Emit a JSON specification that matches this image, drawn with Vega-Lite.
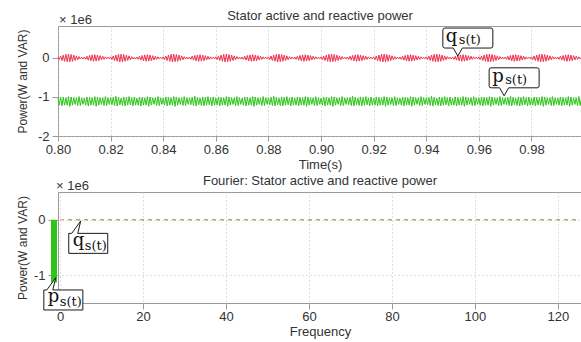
{
  "$schema": "https://vega.github.io/schema/vega-lite/v6.json",
  "padding": {"left": 15, "top": 9, "right": 0, "bottom": 0},
  "columns": 1,
  "spacing": 2,
  "config": {
    "font": "Liberation Sans",
    "view": {"stroke": "#9a9a9a", "strokeWidth": 1},
    "axis": {
      "domain": false,
      "tickColor": "#9a9a9a",
      "labelFont": "Liberation Sans",
      "labelFontSize": 13,
      "labelColor": "#333333",
      "titleFont": "Liberation Sans",
      "titleFontSize": 13,
      "titleFontWeight": "normal",
      "titleColor": "#333333",
      "gridColor": "#bdbdbd",
      "gridDash": [1, 3],
      "gridWidth": 1
    },
    "title": {"font": "Liberation Sans", "fontSize": 13, "fontWeight": "normal", "color": "#333333", "frame": "group"}
  },
  "datasets": {
    "wave": [
      {"t":0.8,"q":0.03,"p":-1.03},{"t":0.8005,"q":-0.04,"p":-1.21},{"t":0.801,"q":0.05,"p":-1.0},{"t":0.8015,"q":-0.065,"p":-1.23},{"t":0.802,"q":0.075,"p":-1.01},{"t":0.8025,"q":-0.085,"p":-1.21},{"t":0.803,"q":0.095,"p":-1.02},{"t":0.8035,"q":-0.1,"p":-1.21},{"t":0.804,"q":0.1,"p":-0.99},{"t":0.8045,"q":-0.095,"p":-1.24},{"t":0.805,"q":0.09,"p":-1.0},{"t":0.8055,"q":-0.085,"p":-1.21},{"t":0.806,"q":0.075,"p":-1.02},{"t":0.8065,"q":-0.065,"p":-1.19},{"t":0.807,"q":0.055,"p":-1.02},{"t":0.8075,"q":-0.045,"p":-1.22},{"t":0.808,"q":0.035,"p":-0.99},{"t":0.8085,"q":-0.025,"p":-1.22},{"t":0.809,"q":0.02,"p":-1.02},{"t":0.8095,"q":-0.025,"p":-1.19},
      {"t":0.81,"q":0.025,"p":-1.03},{"t":0.8105,"q":-0.035,"p":-1.21},{"t":0.811,"q":0.045,"p":-1.0},{"t":0.8115,"q":-0.055,"p":-1.23},{"t":0.812,"q":0.065,"p":-1.01},{"t":0.8125,"q":-0.075,"p":-1.21},{"t":0.813,"q":0.08,"p":-1.02},{"t":0.8135,"q":-0.085,"p":-1.21},{"t":0.814,"q":0.085,"p":-0.99},{"t":0.8145,"q":-0.08,"p":-1.24},{"t":0.815,"q":0.075,"p":-1.0},{"t":0.8155,"q":-0.07,"p":-1.21},{"t":0.816,"q":0.06,"p":-1.02},{"t":0.8165,"q":-0.05,"p":-1.19},{"t":0.817,"q":0.045,"p":-1.02},{"t":0.8175,"q":-0.035,"p":-1.22},{"t":0.818,"q":0.03,"p":-0.99},{"t":0.8185,"q":-0.02,"p":-1.22},{"t":0.819,"q":0.02,"p":-1.02},{"t":0.8195,"q":-0.02,"p":-1.19},
      {"t":0.82,"q":0.03,"p":-1.02},{"t":0.8205,"q":-0.04,"p":-1.2},{"t":0.821,"q":0.05,"p":-1.01},{"t":0.8215,"q":-0.065,"p":-1.22},{"t":0.822,"q":0.075,"p":-0.98},{"t":0.8225,"q":-0.085,"p":-1.23},{"t":0.823,"q":0.095,"p":-1.01},{"t":0.8235,"q":-0.1,"p":-1.2},{"t":0.824,"q":0.1,"p":-1.03},{"t":0.8245,"q":-0.095,"p":-1.22},{"t":0.825,"q":0.09,"p":-1.0},{"t":0.8255,"q":-0.085,"p":-1.23},{"t":0.826,"q":0.075,"p":-1.01},{"t":0.8265,"q":-0.065,"p":-1.21},{"t":0.827,"q":0.055,"p":-0.99},{"t":0.8275,"q":-0.045,"p":-1.2},{"t":0.828,"q":0.035,"p":-1.02},{"t":0.8285,"q":-0.025,"p":-1.23},{"t":0.829,"q":0.02,"p":-1.0},{"t":0.8295,"q":-0.025,"p":-1.21},
      {"t":0.83,"q":0.025,"p":-1.03},{"t":0.8305,"q":-0.035,"p":-1.21},{"t":0.831,"q":0.045,"p":-1.0},{"t":0.8315,"q":-0.055,"p":-1.23},{"t":0.832,"q":0.065,"p":-1.01},{"t":0.8325,"q":-0.075,"p":-1.21},{"t":0.833,"q":0.08,"p":-1.02},{"t":0.8335,"q":-0.085,"p":-1.21},{"t":0.834,"q":0.085,"p":-0.99},{"t":0.8345,"q":-0.08,"p":-1.24},{"t":0.835,"q":0.075,"p":-1.0},{"t":0.8355,"q":-0.07,"p":-1.21},{"t":0.836,"q":0.06,"p":-1.02},{"t":0.8365,"q":-0.05,"p":-1.19},{"t":0.837,"q":0.045,"p":-1.02},{"t":0.8375,"q":-0.035,"p":-1.22},{"t":0.838,"q":0.03,"p":-0.99},{"t":0.8385,"q":-0.02,"p":-1.22},{"t":0.839,"q":0.02,"p":-1.02},{"t":0.8395,"q":-0.02,"p":-1.19},
      {"t":0.84,"q":0.03,"p":-1.03},{"t":0.8405,"q":-0.04,"p":-1.21},{"t":0.841,"q":0.05,"p":-1.0},{"t":0.8415,"q":-0.065,"p":-1.23},{"t":0.842,"q":0.075,"p":-1.01},{"t":0.8425,"q":-0.085,"p":-1.21},{"t":0.843,"q":0.095,"p":-1.02},{"t":0.8435,"q":-0.1,"p":-1.21},{"t":0.844,"q":0.1,"p":-0.99},{"t":0.8445,"q":-0.095,"p":-1.24},{"t":0.845,"q":0.09,"p":-1.0},{"t":0.8455,"q":-0.085,"p":-1.21},{"t":0.846,"q":0.075,"p":-1.02},{"t":0.8465,"q":-0.065,"p":-1.19},{"t":0.847,"q":0.055,"p":-1.02},{"t":0.8475,"q":-0.045,"p":-1.22},{"t":0.848,"q":0.035,"p":-0.99},{"t":0.8485,"q":-0.025,"p":-1.22},{"t":0.849,"q":0.02,"p":-1.02},{"t":0.8495,"q":-0.025,"p":-1.19},
      {"t":0.85,"q":0.025,"p":-1.02},{"t":0.8505,"q":-0.035,"p":-1.2},{"t":0.851,"q":0.045,"p":-1.01},{"t":0.8515,"q":-0.055,"p":-1.22},{"t":0.852,"q":0.065,"p":-0.98},{"t":0.8525,"q":-0.075,"p":-1.23},{"t":0.853,"q":0.08,"p":-1.01},{"t":0.8535,"q":-0.085,"p":-1.2},{"t":0.854,"q":0.085,"p":-1.03},{"t":0.8545,"q":-0.08,"p":-1.22},{"t":0.855,"q":0.075,"p":-1.0},{"t":0.8555,"q":-0.07,"p":-1.23},{"t":0.856,"q":0.06,"p":-1.01},{"t":0.8565,"q":-0.05,"p":-1.21},{"t":0.857,"q":0.045,"p":-0.99},{"t":0.8575,"q":-0.035,"p":-1.2},{"t":0.858,"q":0.03,"p":-1.02},{"t":0.8585,"q":-0.02,"p":-1.23},{"t":0.859,"q":0.02,"p":-1.0},{"t":0.8595,"q":-0.02,"p":-1.21},
      {"t":0.86,"q":0.03,"p":-1.03},{"t":0.8605,"q":-0.04,"p":-1.21},{"t":0.861,"q":0.05,"p":-1.0},{"t":0.8615,"q":-0.065,"p":-1.23},{"t":0.862,"q":0.075,"p":-1.01},{"t":0.8625,"q":-0.085,"p":-1.21},{"t":0.863,"q":0.095,"p":-1.02},{"t":0.8635,"q":-0.1,"p":-1.21},{"t":0.864,"q":0.1,"p":-0.99},{"t":0.8645,"q":-0.095,"p":-1.24},{"t":0.865,"q":0.09,"p":-1.0},{"t":0.8655,"q":-0.085,"p":-1.21},{"t":0.866,"q":0.075,"p":-1.02},{"t":0.8665,"q":-0.065,"p":-1.19},{"t":0.867,"q":0.055,"p":-1.02},{"t":0.8675,"q":-0.045,"p":-1.22},{"t":0.868,"q":0.035,"p":-0.99},{"t":0.8685,"q":-0.025,"p":-1.22},{"t":0.869,"q":0.02,"p":-1.02},{"t":0.8695,"q":-0.025,"p":-1.19},
      {"t":0.87,"q":0.025,"p":-1.03},{"t":0.8705,"q":-0.035,"p":-1.21},{"t":0.871,"q":0.045,"p":-1.0},{"t":0.8715,"q":-0.055,"p":-1.23},{"t":0.872,"q":0.065,"p":-1.01},{"t":0.8725,"q":-0.075,"p":-1.21},{"t":0.873,"q":0.08,"p":-1.02},{"t":0.8735,"q":-0.085,"p":-1.21},{"t":0.874,"q":0.085,"p":-0.99},{"t":0.8745,"q":-0.08,"p":-1.24},{"t":0.875,"q":0.075,"p":-1.0},{"t":0.8755,"q":-0.07,"p":-1.21},{"t":0.876,"q":0.06,"p":-1.02},{"t":0.8765,"q":-0.05,"p":-1.19},{"t":0.877,"q":0.045,"p":-1.02},{"t":0.8775,"q":-0.035,"p":-1.22},{"t":0.878,"q":0.03,"p":-0.99},{"t":0.8785,"q":-0.02,"p":-1.22},{"t":0.879,"q":0.02,"p":-1.02},{"t":0.8795,"q":-0.02,"p":-1.19},
      {"t":0.88,"q":0.03,"p":-1.02},{"t":0.8805,"q":-0.04,"p":-1.2},{"t":0.881,"q":0.05,"p":-1.01},{"t":0.8815,"q":-0.065,"p":-1.22},{"t":0.882,"q":0.075,"p":-0.98},{"t":0.8825,"q":-0.085,"p":-1.23},{"t":0.883,"q":0.095,"p":-1.01},{"t":0.8835,"q":-0.1,"p":-1.2},{"t":0.884,"q":0.1,"p":-1.03},{"t":0.8845,"q":-0.095,"p":-1.22},{"t":0.885,"q":0.09,"p":-1.0},{"t":0.8855,"q":-0.085,"p":-1.23},{"t":0.886,"q":0.075,"p":-1.01},{"t":0.8865,"q":-0.065,"p":-1.21},{"t":0.887,"q":0.055,"p":-0.99},{"t":0.8875,"q":-0.045,"p":-1.2},{"t":0.888,"q":0.035,"p":-1.02},{"t":0.8885,"q":-0.025,"p":-1.23},{"t":0.889,"q":0.02,"p":-1.0},{"t":0.8895,"q":-0.025,"p":-1.21},
      {"t":0.89,"q":0.025,"p":-1.03},{"t":0.8905,"q":-0.035,"p":-1.21},{"t":0.891,"q":0.045,"p":-1.0},{"t":0.8915,"q":-0.055,"p":-1.23},{"t":0.892,"q":0.065,"p":-1.01},{"t":0.8925,"q":-0.075,"p":-1.21},{"t":0.893,"q":0.08,"p":-1.02},{"t":0.8935,"q":-0.085,"p":-1.21},{"t":0.894,"q":0.085,"p":-0.99},{"t":0.8945,"q":-0.08,"p":-1.24},{"t":0.895,"q":0.075,"p":-1.0},{"t":0.8955,"q":-0.07,"p":-1.21},{"t":0.896,"q":0.06,"p":-1.02},{"t":0.8965,"q":-0.05,"p":-1.19},{"t":0.897,"q":0.045,"p":-1.02},{"t":0.8975,"q":-0.035,"p":-1.22},{"t":0.898,"q":0.03,"p":-0.99},{"t":0.8985,"q":-0.02,"p":-1.22},{"t":0.899,"q":0.02,"p":-1.02},{"t":0.8995,"q":-0.02,"p":-1.19},
      {"t":0.9,"q":0.03,"p":-1.03},{"t":0.9005,"q":-0.04,"p":-1.21},{"t":0.901,"q":0.05,"p":-1.0},{"t":0.9015,"q":-0.065,"p":-1.23},{"t":0.902,"q":0.075,"p":-1.01},{"t":0.9025,"q":-0.085,"p":-1.21},{"t":0.903,"q":0.095,"p":-1.02},{"t":0.9035,"q":-0.1,"p":-1.21},{"t":0.904,"q":0.1,"p":-0.99},{"t":0.9045,"q":-0.095,"p":-1.24},{"t":0.905,"q":0.09,"p":-1.0},{"t":0.9055,"q":-0.085,"p":-1.21},{"t":0.906,"q":0.075,"p":-1.02},{"t":0.9065,"q":-0.065,"p":-1.19},{"t":0.907,"q":0.055,"p":-1.02},{"t":0.9075,"q":-0.045,"p":-1.22},{"t":0.908,"q":0.035,"p":-0.99},{"t":0.9085,"q":-0.025,"p":-1.22},{"t":0.909,"q":0.02,"p":-1.02},{"t":0.9095,"q":-0.025,"p":-1.19},
      {"t":0.91,"q":0.025,"p":-1.02},{"t":0.9105,"q":-0.035,"p":-1.2},{"t":0.911,"q":0.045,"p":-1.01},{"t":0.9115,"q":-0.055,"p":-1.22},{"t":0.912,"q":0.065,"p":-0.98},{"t":0.9125,"q":-0.075,"p":-1.23},{"t":0.913,"q":0.08,"p":-1.01},{"t":0.9135,"q":-0.085,"p":-1.2},{"t":0.914,"q":0.085,"p":-1.03},{"t":0.9145,"q":-0.08,"p":-1.22},{"t":0.915,"q":0.075,"p":-1.0},{"t":0.9155,"q":-0.07,"p":-1.23},{"t":0.916,"q":0.06,"p":-1.01},{"t":0.9165,"q":-0.05,"p":-1.21},{"t":0.917,"q":0.045,"p":-0.99},{"t":0.9175,"q":-0.035,"p":-1.2},{"t":0.918,"q":0.03,"p":-1.02},{"t":0.9185,"q":-0.02,"p":-1.23},{"t":0.919,"q":0.02,"p":-1.0},{"t":0.9195,"q":-0.02,"p":-1.21},
      {"t":0.92,"q":0.03,"p":-1.03},{"t":0.9205,"q":-0.04,"p":-1.21},{"t":0.921,"q":0.05,"p":-1.0},{"t":0.9215,"q":-0.065,"p":-1.23},{"t":0.922,"q":0.075,"p":-1.01},{"t":0.9225,"q":-0.085,"p":-1.21},{"t":0.923,"q":0.095,"p":-1.02},{"t":0.9235,"q":-0.1,"p":-1.21},{"t":0.924,"q":0.1,"p":-0.99},{"t":0.9245,"q":-0.095,"p":-1.24},{"t":0.925,"q":0.09,"p":-1.0},{"t":0.9255,"q":-0.085,"p":-1.21},{"t":0.926,"q":0.075,"p":-1.02},{"t":0.9265,"q":-0.065,"p":-1.19},{"t":0.927,"q":0.055,"p":-1.02},{"t":0.9275,"q":-0.045,"p":-1.22},{"t":0.928,"q":0.035,"p":-0.99},{"t":0.9285,"q":-0.025,"p":-1.22},{"t":0.929,"q":0.02,"p":-1.02},{"t":0.9295,"q":-0.025,"p":-1.19},
      {"t":0.93,"q":0.025,"p":-1.03},{"t":0.9305,"q":-0.035,"p":-1.21},{"t":0.931,"q":0.045,"p":-1.0},{"t":0.9315,"q":-0.055,"p":-1.23},{"t":0.932,"q":0.065,"p":-1.01},{"t":0.9325,"q":-0.075,"p":-1.21},{"t":0.933,"q":0.08,"p":-1.02},{"t":0.9335,"q":-0.085,"p":-1.21},{"t":0.934,"q":0.085,"p":-0.99},{"t":0.9345,"q":-0.08,"p":-1.24},{"t":0.935,"q":0.075,"p":-1.0},{"t":0.9355,"q":-0.07,"p":-1.21},{"t":0.936,"q":0.06,"p":-1.02},{"t":0.9365,"q":-0.05,"p":-1.19},{"t":0.937,"q":0.045,"p":-1.02},{"t":0.9375,"q":-0.035,"p":-1.22},{"t":0.938,"q":0.03,"p":-0.99},{"t":0.9385,"q":-0.02,"p":-1.22},{"t":0.939,"q":0.02,"p":-1.02},{"t":0.9395,"q":-0.02,"p":-1.19},
      {"t":0.94,"q":0.03,"p":-1.02},{"t":0.9405,"q":-0.04,"p":-1.2},{"t":0.941,"q":0.05,"p":-1.01},{"t":0.9415,"q":-0.065,"p":-1.22},{"t":0.942,"q":0.075,"p":-0.98},{"t":0.9425,"q":-0.085,"p":-1.23},{"t":0.943,"q":0.095,"p":-1.01},{"t":0.9435,"q":-0.1,"p":-1.2},{"t":0.944,"q":0.1,"p":-1.03},{"t":0.9445,"q":-0.095,"p":-1.22},{"t":0.945,"q":0.09,"p":-1.0},{"t":0.9455,"q":-0.085,"p":-1.23},{"t":0.946,"q":0.075,"p":-1.01},{"t":0.9465,"q":-0.065,"p":-1.21},{"t":0.947,"q":0.055,"p":-0.99},{"t":0.9475,"q":-0.045,"p":-1.2},{"t":0.948,"q":0.035,"p":-1.02},{"t":0.9485,"q":-0.025,"p":-1.23},{"t":0.949,"q":0.02,"p":-1.0},{"t":0.9495,"q":-0.025,"p":-1.21},
      {"t":0.95,"q":0.025,"p":-1.03},{"t":0.9505,"q":-0.035,"p":-1.21},{"t":0.951,"q":0.045,"p":-1.0},{"t":0.9515,"q":-0.055,"p":-1.23},{"t":0.952,"q":0.065,"p":-1.01},{"t":0.9525,"q":-0.075,"p":-1.21},{"t":0.953,"q":0.08,"p":-1.02},{"t":0.9535,"q":-0.085,"p":-1.21},{"t":0.954,"q":0.085,"p":-0.99},{"t":0.9545,"q":-0.08,"p":-1.24},{"t":0.955,"q":0.075,"p":-1.0},{"t":0.9555,"q":-0.07,"p":-1.21},{"t":0.956,"q":0.06,"p":-1.02},{"t":0.9565,"q":-0.05,"p":-1.19},{"t":0.957,"q":0.045,"p":-1.02},{"t":0.9575,"q":-0.035,"p":-1.22},{"t":0.958,"q":0.03,"p":-0.99},{"t":0.9585,"q":-0.02,"p":-1.22},{"t":0.959,"q":0.02,"p":-1.02},{"t":0.9595,"q":-0.02,"p":-1.19},
      {"t":0.96,"q":0.03,"p":-1.03},{"t":0.9605,"q":-0.04,"p":-1.21},{"t":0.961,"q":0.05,"p":-1.0},{"t":0.9615,"q":-0.065,"p":-1.23},{"t":0.962,"q":0.075,"p":-1.01},{"t":0.9625,"q":-0.085,"p":-1.21},{"t":0.963,"q":0.095,"p":-1.02},{"t":0.9635,"q":-0.1,"p":-1.21},{"t":0.964,"q":0.1,"p":-0.99},{"t":0.9645,"q":-0.095,"p":-1.24},{"t":0.965,"q":0.09,"p":-1.0},{"t":0.9655,"q":-0.085,"p":-1.21},{"t":0.966,"q":0.075,"p":-1.02},{"t":0.9665,"q":-0.065,"p":-1.19},{"t":0.967,"q":0.055,"p":-1.02},{"t":0.9675,"q":-0.045,"p":-1.22},{"t":0.968,"q":0.035,"p":-0.99},{"t":0.9685,"q":-0.025,"p":-1.22},{"t":0.969,"q":0.02,"p":-1.02},{"t":0.9695,"q":-0.025,"p":-1.19},
      {"t":0.97,"q":0.025,"p":-1.02},{"t":0.9705,"q":-0.035,"p":-1.2},{"t":0.971,"q":0.045,"p":-1.01},{"t":0.9715,"q":-0.055,"p":-1.22},{"t":0.972,"q":0.065,"p":-0.98},{"t":0.9725,"q":-0.075,"p":-1.23},{"t":0.973,"q":0.08,"p":-1.01},{"t":0.9735,"q":-0.085,"p":-1.2},{"t":0.974,"q":0.085,"p":-1.03},{"t":0.9745,"q":-0.08,"p":-1.22},{"t":0.975,"q":0.075,"p":-1.0},{"t":0.9755,"q":-0.07,"p":-1.23},{"t":0.976,"q":0.06,"p":-1.01},{"t":0.9765,"q":-0.05,"p":-1.21},{"t":0.977,"q":0.045,"p":-0.99},{"t":0.9775,"q":-0.035,"p":-1.2},{"t":0.978,"q":0.03,"p":-1.02},{"t":0.9785,"q":-0.02,"p":-1.23},{"t":0.979,"q":0.02,"p":-1.0},{"t":0.9795,"q":-0.02,"p":-1.21},
      {"t":0.98,"q":0.03,"p":-1.03},{"t":0.9805,"q":-0.04,"p":-1.21},{"t":0.981,"q":0.05,"p":-1.0},{"t":0.9815,"q":-0.065,"p":-1.23},{"t":0.982,"q":0.075,"p":-1.01},{"t":0.9825,"q":-0.085,"p":-1.21},{"t":0.983,"q":0.095,"p":-1.02},{"t":0.9835,"q":-0.1,"p":-1.21},{"t":0.984,"q":0.1,"p":-0.99},{"t":0.9845,"q":-0.095,"p":-1.24},{"t":0.985,"q":0.09,"p":-1.0},{"t":0.9855,"q":-0.085,"p":-1.21},{"t":0.986,"q":0.075,"p":-1.02},{"t":0.9865,"q":-0.065,"p":-1.19},{"t":0.987,"q":0.055,"p":-1.02},{"t":0.9875,"q":-0.045,"p":-1.22},{"t":0.988,"q":0.035,"p":-0.99},{"t":0.9885,"q":-0.025,"p":-1.22},{"t":0.989,"q":0.02,"p":-1.02},{"t":0.9895,"q":-0.025,"p":-1.19},
      {"t":0.99,"q":0.025,"p":-1.03},{"t":0.9905,"q":-0.035,"p":-1.21},{"t":0.991,"q":0.045,"p":-1.0},{"t":0.9915,"q":-0.055,"p":-1.23},{"t":0.992,"q":0.065,"p":-1.01},{"t":0.9925,"q":-0.075,"p":-1.21},{"t":0.993,"q":0.08,"p":-1.02},{"t":0.9935,"q":-0.085,"p":-1.21},{"t":0.994,"q":0.085,"p":-0.99},{"t":0.9945,"q":-0.08,"p":-1.24},{"t":0.995,"q":0.075,"p":-1.0},{"t":0.9955,"q":-0.07,"p":-1.21},{"t":0.996,"q":0.06,"p":-1.02},{"t":0.9965,"q":-0.05,"p":-1.19},{"t":0.997,"q":0.045,"p":-1.02},{"t":0.9975,"q":-0.035,"p":-1.22},{"t":0.998,"q":0.03,"p":-0.99},{"t":0.9985,"q":-0.02,"p":-1.22},{"t":0.999,"q":0.02,"p":-1.02}
    ],
    "spectrum": [
      {"f":0,"q":0,"p":-1.13},{"f":1,"q":0,"p":0},{"f":5,"q":0,"p":0},{"f":10,"q":0,"p":0},{"f":15,"q":0,"p":0},{"f":20,"q":0,"p":0},{"f":25,"q":0,"p":0},{"f":30,"q":0,"p":0},{"f":35,"q":0,"p":0},{"f":40,"q":0,"p":0},{"f":45,"q":0,"p":0},{"f":50,"q":0,"p":0},{"f":55,"q":0,"p":0},{"f":60,"q":0,"p":0},{"f":65,"q":0,"p":0},{"f":70,"q":0,"p":0},{"f":75,"q":0,"p":0},{"f":80,"q":0,"p":0},{"f":85,"q":0,"p":0},{"f":90,"q":0,"p":0},{"f":95,"q":0,"p":0},{"f":100,"q":0,"p":0},{"f":105,"q":0,"p":0},{"f":110,"q":0,"p":0},{"f":115,"q":0,"p":0},{"f":120,"q":0,"p":0},{"f":125,"q":0,"p":0}
    ],
    "timeNotes": [
      {"t":0.952,"value":0.05,"letter":"q"},
      {"t":0.9696,"value":-0.97,"letter":"p"}
    ],
    "freqNotes": [
      {"f":5,"value":-0.02,"letter":"q"},
      {"f":-1,"value":-1.04,"letter":"p"}
    ]
  },
  "concat": [
    {
      "width": 524,
      "height": 110,
      "title": {"text": "Stator active and reactive power", "offset": 3, "dy": 12},
      "layer": [
        {
          "data": {"name": "wave"},
          "transform": [{"fold": ["q", "p"], "as": ["series", "value"]}],
          "mark": {"type": "line", "strokeWidth": 1},
          "encoding": {
            "x": {
              "field": "t", "type": "quantitative",
              "scale": {"domain": [0.8, 0.9992], "nice": false, "zero": false},
              "axis": {"title": "Time(s)", "values": [0.8, 0.82, 0.84, 0.86, 0.88, 0.9, 0.92, 0.94, 0.96, 0.98], "format": ".2f", "labelFlush": false, "grid": true, "tickSize": 5, "labelPadding": 2, "titlePadding": 2}
            },
            "y": {
              "field": "value", "type": "quantitative",
              "scale": {"domain": [-2, 0.82], "nice": false, "zero": false},
              "axis": {"title": "Power(W and VAR)", "titleFontSize": 12, "titlePadding": 8, "values": [-2, -1, 0], "labelExpr": "datum.value < 0 ? '-' + abs(datum.value) : '' + datum.value", "grid": true, "tickSize": 6, "labelPadding": 3}
            },
            "color": {"field": "series", "type": "nominal", "scale": {"domain": ["q", "p"], "range": ["#f0324f", "#2fc41c"]}, "legend": null}
          }
        },
        {
          "data": {"name": "timeNotes"},
          "mark": {"type": "point", "shape": "M0,0L-0.45,-0.8L-1.3,-0.8Q-1.5,-0.8 -1.5,-1L-1.5,-2.6Q-1.5,-2.8 -1.3,-2.8L3.3,-2.8Q3.5,-2.8 3.5,-2.6L3.5,-1Q3.5,-0.8 3.3,-0.8L0.45,-0.8Z", "size": 400, "filled": true, "fill": "#ffffff", "stroke": "#1a1a1a", "strokeWidth": 1, "opacity": 1},
          "encoding": {
            "x": {"field": "t", "type": "quantitative"},
            "y": {"field": "value", "type": "quantitative"}
          }
        },
        {
          "data": {"name": "timeNotes"},
          "mark": {"type": "text", "font": "DejaVu Serif", "fontSize": 18, "align": "left", "baseline": "alphabetic", "dx": -12, "dy": -14, "color": "#111111"},
          "encoding": {
            "x": {"field": "t", "type": "quantitative"},
            "y": {"field": "value", "type": "quantitative"},
            "text": {"field": "letter"}
          }
        },
        {
          "data": {"name": "timeNotes"},
          "mark": {"type": "text", "font": "DejaVu Serif", "fontSize": 13, "align": "left", "baseline": "alphabetic", "dx": 1, "dy": -12, "color": "#111111"},
          "encoding": {
            "x": {"field": "t", "type": "quantitative"},
            "y": {"field": "value", "type": "quantitative"},
            "text": {"value": "s(t)"}
          }
        },
        {
          "data": {"values": [{}]},
          "mark": {"type": "text", "fontSize": 13, "align": "left", "baseline": "alphabetic", "dx": 1, "dy": -2, "color": "#333333"},
          "encoding": {
            "x": {"datum": 0.8},
            "y": {"datum": 0.82},
            "text": {"value": "× 1e6"}
          }
        }
      ]
    },
    {
      "width": 524,
      "height": 111,
      "title": {"text": "Fourier: Stator active and reactive power", "offset": 4, "dy": 12},
      "layer": [
        {
          "data": {"name": "spectrum"},
          "transform": [{"filter": "datum.f == 0"}],
          "mark": {"type": "rule", "color": "#2fc41c", "strokeWidth": 6, "xOffset": -6},
          "encoding": {
            "x": {
              "field": "f", "type": "quantitative",
              "scale": {"domain": [-0.48, 125.81], "nice": false, "zero": false},
              "axis": {"title": "Frequency", "values": [0, 20, 40, 60, 80, 100, 120], "format": "d", "labelFlush": false, "grid": true, "tickSize": 6, "labelPadding": 1, "titlePadding": 2}
            },
            "y": {
              "field": "p", "type": "quantitative",
              "scale": {"domain": [-1.5, 0.5], "nice": false, "zero": false},
              "axis": {"title": "Power(W and VAR)", "titleFontSize": 12, "titlePadding": 4, "values": [-1, 0], "labelExpr": "datum.value < 0 ? '-' + abs(datum.value) : '' + datum.value", "grid": true, "tickSize": 10, "labelPadding": 3}
            },
            "y2": {"datum": 0}
          }
        },
        {
          "data": {"name": "spectrum"},
          "mark": {"type": "line", "color": "#f0324f", "strokeWidth": 1, "strokeDash": [4, 4], "opacity": 0.6},
          "encoding": {
            "x": {"field": "f", "type": "quantitative"},
            "y": {"field": "q", "type": "quantitative"}
          }
        },
        {
          "data": {"name": "spectrum"},
          "transform": [{"filter": "datum.f > 0"}],
          "mark": {"type": "line", "color": "#2fc41c", "strokeWidth": 1, "strokeDash": [4, 4], "strokeDashOffset": 4, "opacity": 0.6},
          "encoding": {
            "x": {"field": "f", "type": "quantitative"},
            "y": {"field": "p", "type": "quantitative"}
          }
        },
        {
          "data": {"name": "freqNotes"},
          "mark": {"type": "point", "shape": "M0,0L-0.3,1.25L2.7,1.25L2.7,3.25L-1.2,3.25L-1.2,1.25L-0.9,1.25Z", "size": 400, "filled": true, "fill": "#ffffff", "stroke": "#1a1a1a", "strokeWidth": 1, "opacity": 1},
          "encoding": {
            "x": {"field": "f", "type": "quantitative"},
            "y": {"field": "value", "type": "quantitative"}
          }
        },
        {
          "data": {"name": "freqNotes"},
          "mark": {"type": "text", "font": "DejaVu Serif", "fontSize": 18, "align": "left", "baseline": "alphabetic", "dx": -8, "dy": 25, "color": "#111111"},
          "encoding": {
            "x": {"field": "f", "type": "quantitative"},
            "y": {"field": "value", "type": "quantitative"},
            "text": {"field": "letter"}
          }
        },
        {
          "data": {"name": "freqNotes"},
          "mark": {"type": "text", "font": "DejaVu Serif", "fontSize": 13, "align": "left", "baseline": "alphabetic", "dx": 4, "dy": 29, "color": "#111111"},
          "encoding": {
            "x": {"field": "f", "type": "quantitative"},
            "y": {"field": "value", "type": "quantitative"},
            "text": {"value": "s(t)"}
          }
        },
        {
          "data": {"values": [{}]},
          "mark": {"type": "text", "fontSize": 13, "align": "left", "baseline": "alphabetic", "dx": -2, "dy": -2, "color": "#333333"},
          "encoding": {
            "x": {"datum": -0.48},
            "y": {"datum": 0.5},
            "text": {"value": "× 1e6"}
          }
        }
      ]
    }
  ]
}
